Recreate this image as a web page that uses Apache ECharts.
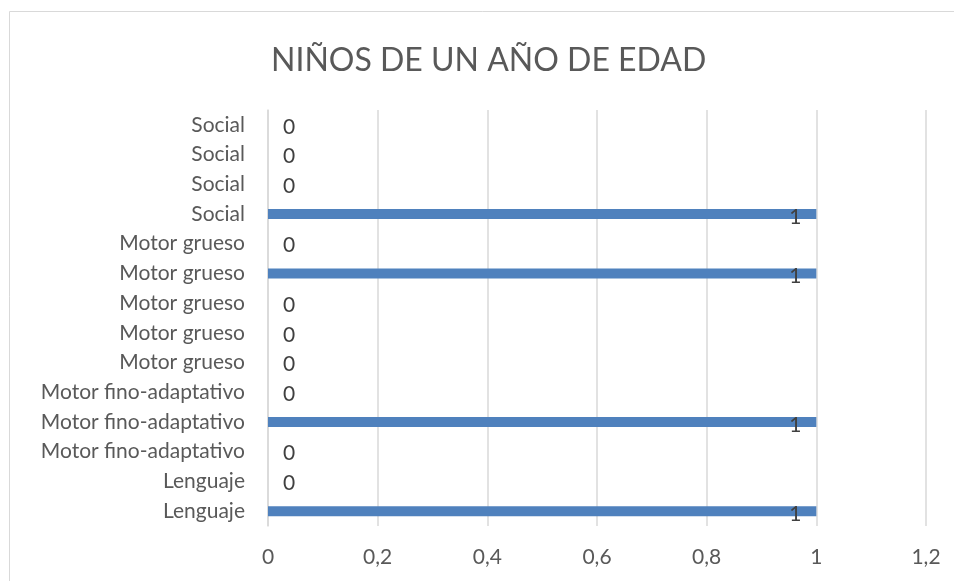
<!DOCTYPE html>
<html>
<head>
<meta charset="utf-8">
<script src="https://cdn.jsdelivr.net/npm/echarts@6/dist/echarts.min.js"></script>
<style>
  html, body { margin: 0; padding: 0; background: #fff; }
  #chart { width: 954px; height: 581px; }
</style>
</head>
<body>
<div id="chart"></div>
<script>
// categories from bottom to top, as in the chart
const categories = [
  'Lenguaje', 'Lenguaje',
  'Motor fino-adaptativo', 'Motor fino-adaptativo', 'Motor fino-adaptativo',
  'Motor grueso', 'Motor grueso', 'Motor grueso', 'Motor grueso', 'Motor grueso',
  'Social', 'Social', 'Social', 'Social'
];
const values = [1, 0, 0, 1, 0, 0, 0, 0, 1, 0, 1, 0, 0, 0];
const xTicks = [0, 0.2, 0.4, 0.6, 0.8, 1, 1.2];

const font = 'Lato, "Noto Sans", sans-serif';
const textColor = '#595959';

const myChart = echarts.init(document.getElementById('chart'));

const option = {
  animation: false,
  title: {
    text: 'NIÑOS DE UN AÑO DE EDAD',
    left: 266,
    top: 40,
    textStyle: { fontFamily: font, fontWeight: 'normal', fontSize: 32, color: textColor }
  },
  graphic: [{
    type: 'rect',
    shape: { x: 9.5, y: 11.5, width: 1000, height: 1000 },
    style: { fill: 'none', stroke: '#d9d9d9', lineWidth: 1 },
    silent: true
  }],
  grid: { left: 268, right: 28, top: 110, bottom: 55 },
  xAxis: {
    type: 'value',
    min: 0,
    max: 1.2,
    interval: 0.2,
    axisLine: { show: false },
    axisTick: { show: false },
    splitLine: { show: true, lineStyle: { color: '#d9d9d9', width: 1.5 } },
    axisLabel: {
      margin: 21,
      fontFamily: font,
      fontSize: 21,
      color: textColor,
      formatter: (v) => {
        const t = xTicks.find((x) => Math.abs(x - v) < 1e-9);
        return String(t !== undefined ? t : v).replace('.', ',');
      }
    }
  },
  yAxis: {
    type: 'category',
    data: categories,
    axisLine: { show: true, lineStyle: { color: '#d9d9d9', width: 1.5 } },
    axisTick: { show: false },
    axisLabel: { margin: 23, fontFamily: font, fontSize: 21, color: textColor, interval: 0 }
  },
  series: [{
    type: 'bar',
    data: values,
    barWidth: 10,
    itemStyle: { color: '#4f81bd' },
    label: {
      show: true,
      fontFamily: font,
      fontSize: 21,
      color: '#404040',
      position: 'right',
      distance: 15,
      offset: [0, 2],
      formatter: (p) => p.value === 0 ? '0' : ''
    },
    silent: true
  }, {
    // second pass only for the "1" labels placed inside the bar end
    type: 'bar',
    data: values,
    barWidth: 10,
    barGap: '-100%',
    itemStyle: { color: 'transparent' },
    label: {
      show: true,
      fontFamily: font,
      fontSize: 21,
      color: '#404040',
      position: 'insideRight',
      distance: 15,
      offset: [0, 3],
      formatter: (p) => p.value === 0 ? '' : String(p.value)
    },
    silent: true
  }]
};

myChart.setOption(option);
</script>
</body>
</html>
